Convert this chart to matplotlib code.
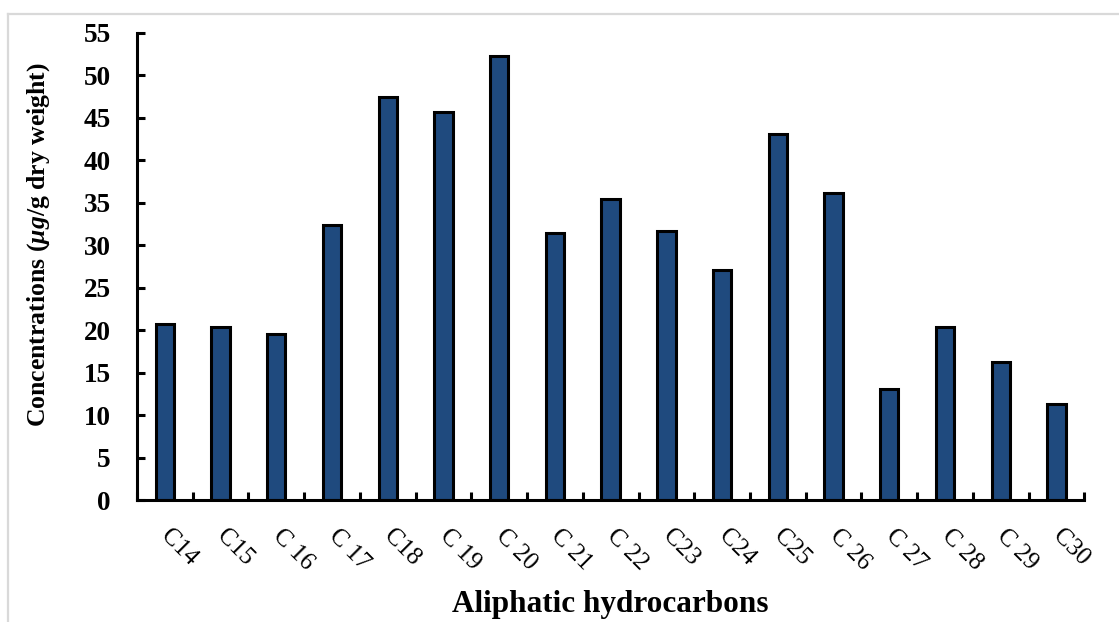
import numpy as np
import matplotlib.pyplot as plt
import matplotlib.transforms as mtransforms
from matplotlib.lines import Line2D

plt.rcParams["font.family"] = ["Liberation Serif", "DejaVu Serif"]
plt.rcParams["mathtext.fontset"] = "custom"
plt.rcParams["mathtext.rm"] = "Liberation Serif:bold"
plt.rcParams["mathtext.it"] = "Liberation Serif:bold:italic"
plt.rcParams["mathtext.bf"] = "Liberation Serif:bold"

categories = ["C14", "C15", "C 16", "C 17", "C18", "C 19", "C 20", "C 21", "C 22",
              "C23", "C24", "C25", "C 26", "C 27", "C 28", "C 29", "C30"]
values = [20.7, 20.4, 19.5, 32.4, 47.5, 45.7, 52.3, 31.5, 35.4,
          31.7, 27.1, 43.1, 36.2, 13.1, 20.4, 16.3, 11.3]
yticks = [0, 5, 10, 15, 20, 25, 30, 35, 40, 45, 50, 55]

fig = plt.figure(figsize=(11.19, 6.22), dpi=100)
ax = fig.add_axes([0.1224, 0.196, 0.8466, 0.751])

x = np.arange(len(categories))
ax.bar(x, values, width=0.33, color="#1f4a7e", edgecolor="black", linewidth=2.2)

ax.set_xlim(-0.5, len(categories) - 0.5)
ax.set_ylim(0, 55)
ax.set_yticks(yticks)
ax.set_yticklabels([str(t) for t in yticks], fontsize=19.5, fontweight="bold")

ax.set_xticks(x)
ax.set_xticklabels(categories, fontsize=18, rotation=-45, ha="left", va="top")
ax.set_xticks(np.arange(-0.5, len(categories)), minor=True)
ax.tick_params(axis="x", which="major", length=0, pad=18)
ax.tick_params(axis="x", which="minor", direction="in", length=6, width=2.2)
ax.tick_params(axis="y", direction="in", length=6, width=2.2, pad=19)

shift = mtransforms.ScaledTranslation(-8 / 100, 0, fig.dpi_scale_trans)
for lab in ax.get_xticklabels():
    lab.set_transform(lab.get_transform() + shift)

for side in ["top", "right"]:
    ax.spines[side].set_visible(False)
for side in ["left", "bottom"]:
    ax.spines[side].set_linewidth(2.2)

ax.set_xlabel("Aliphatic hydrocarbons", fontsize=22.5, fontweight="bold")
ax.xaxis.set_label_coords(0.5, -0.193)
ax.set_ylabel(r"Concentrations ($\mathit{μg}$/g dry weight)", fontsize=18.5,
              fontweight="bold")
ax.yaxis.set_label_coords(-0.09, 0.546)

# light grey frame around the chart
fig.add_artist(Line2D([8 / 1119, 8 / 1119], [0, 1 - 14 / 622], color="#d9d9d9", lw=1.6))
fig.add_artist(Line2D([8 / 1119, 1], [1 - 14 / 622, 1 - 14 / 622], color="#d9d9d9", lw=1.6))

fig.savefig("out.png", dpi=100)
